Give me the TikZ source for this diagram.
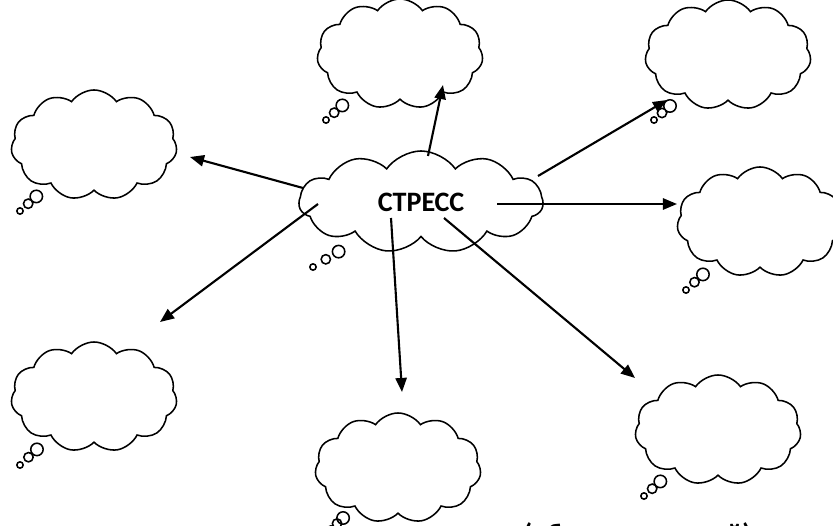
\documentclass[tikz,border=0pt]{standalone}
\usepackage{fontspec}
\setmainfont{Carlito}
\usepackage{tikz}
\usetikzlibrary{shapes.symbols}
\usetikzlibrary{shapes.callouts}
\usetikzlibrary{arrows.meta}
\usetikzlibrary{positioning}
\tikzset{thought/.style={cloud callout,draw=black,line width=1.1pt,fill=white,cloud puffs=11,cloud puff arc=110,cloud ignores aspect,minimum width=4.15cm,minimum height=2.75cm,callout pointer start size=11pt,callout pointer end size=4.5pt,callout pointer segments=3}}
\tikzset{link/.style={line width=1.5pt,-{Triangle[length=10pt,width=8pt]}}}

\begin{document}
\begin{tikzpicture}[x=0.025cm,y=-0.025cm]
\clip (0,0) rectangle (833,525);

\foreach \n/\x/\y/\px/\py in {top/400/54/326/120, topright/728/55/654/120, left/94/145/20/211, right/760/222/686/290, botleft/94/397/20/465, bot/398/468/331/529, botright/718/430/644/496}
 {
 \node[thought,callout absolute pointer={(\px,\py)}] (\n) at (\x,\y) {};
 }

\node[thought,minimum width=6.1cm,minimum height=2.55cm,callout absolute pointer={(313,267)},font=\bfseries\fontsize{20}{24}\selectfont] (stress) at (421,202) {СТРЕСС\hspace{0.95cm}};

\foreach \n/\a/\b/\c/\d in {top/428/156/443/85, topright/538/176/667/100, left/303/188/190/157, right/497/204/677/204, botleft/318/204/160/322, bot/391/218/402/392, botright/444/218/635/378}
 {
 \coordinate (s-\n) at (\a,\b);
 \coordinate (e-\n) at (\c,\d);
 \draw[link] (s-\n) -- (e-\n);
 }

\node[anchor=base west,font=\bfseries\fontsize{20}{24}\selectfont,inner sep=0pt] (note) at (523,543) {(образец заданий)};

\end{tikzpicture}
\end{document}
